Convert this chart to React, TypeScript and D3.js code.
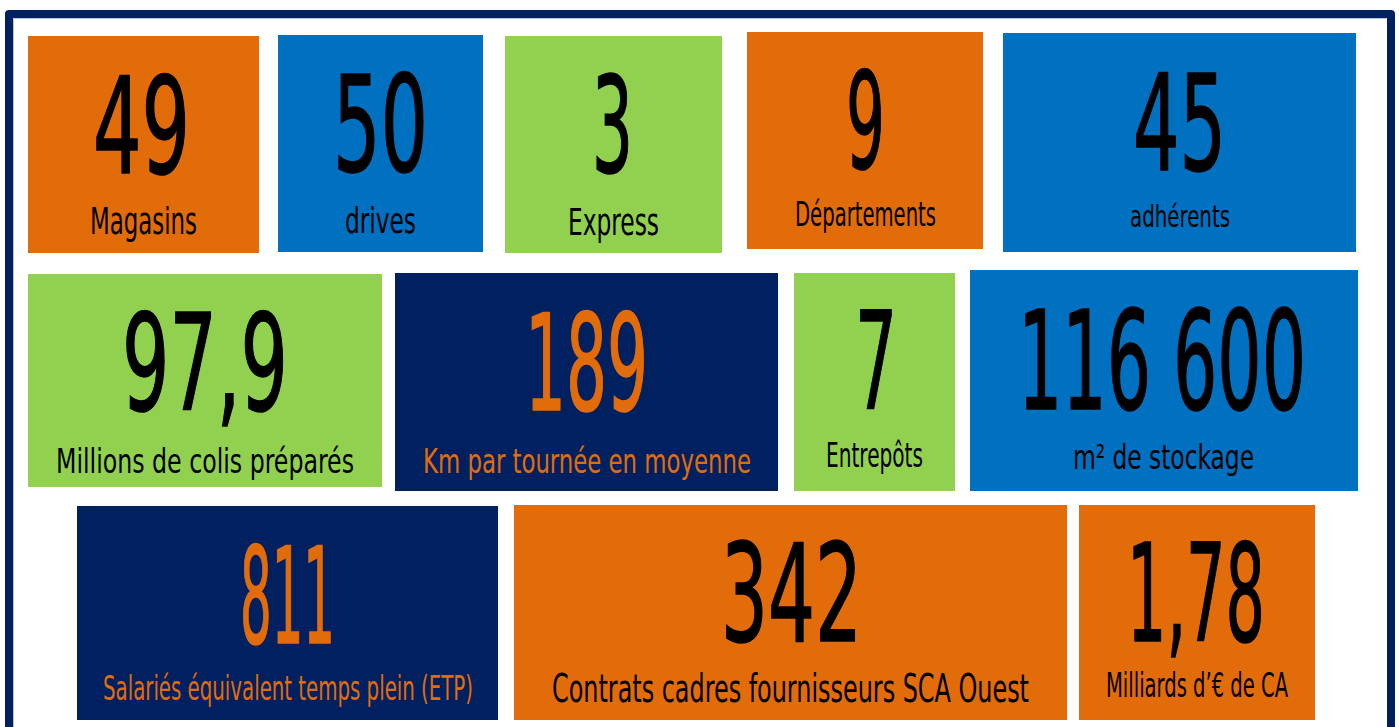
import React, { useEffect, useRef } from "react";
import * as d3 from "d3";

// ---- data ----
const values: string[] = ["49", "50", "3", "9", "45", "97,9", "189", "7", "116 600", "811", "342", "1,78"];
const labels: string[] = [
  "Magasins",
  "drives",
  "Express",
  "Départements",
  "adhérents",
  "Millions de colis préparés",
  "Km par tournée en moyenne",
  "Entrepôts",
  "m² de stockage",
  "Salariés équivalent temps plein (ETP)",
  "Contrats cadres fournisseurs SCA Ouest",
  "Milliards d’€ de CA",
];
const tileKinds: string[] = ["orange", "blue", "green", "orange", "blue", "green", "navy", "green", "blue", "navy", "orange", "orange"];

// ---- layout (pixel geometry of tiles and texts) ----
// tile: [x0, y0, x1, y1]
const tileBoxes: number[][] = [
  [28, 36, 259, 253], [278, 35, 483, 252], [505, 36, 722, 253], [747, 32, 983, 249], [1003, 33, 1356, 252],
  [28, 274, 382, 487], [395, 273, 778, 491], [794, 273, 955, 491], [970, 270, 1358, 491],
  [77, 506, 498, 720], [514, 505, 1067, 720], [1079, 505, 1315, 720],
];
// number: [x0, x1, capTop, baseline]
const numBoxes: number[][] = [
  [93, 190, 75, 173], [333, 428, 73, 171], [592, 633, 75, 172], [846, 885, 70, 168], [1133, 1226, 72, 170],
  [122, 288, 312, 410], [525, 648, 312, 410], [855, 897, 310, 409], [1018, 1306, 309, 409],
  [240, 335, 545, 643], [721, 862, 542, 641], [1127, 1265, 542, 641],
];
// label: [x0, x1, capTop, baseline]
const labelBoxes: number[][] = [
  [90, 197, 207, 234], [345, 416, 207, 233], [568, 659, 208, 235], [795, 936, 202, 226], [1130, 1230, 205, 227],
  [56, 354, 449, 473], [423, 751, 449, 473], [826, 923, 443, 467], [1073, 1254, 444, 469],
  [103, 473, 676, 700], [552, 1029, 674, 702], [1106, 1288, 673, 697],
];

const colors: Record<string, string> = {
  orange: "#E36C0A",
  blue: "#0070C0",
  green: "#92D050",
  navy: "#002060",
};
const textColors: Record<string, string> = {
  orange: "#000000",
  blue: "#000000",
  green: "#000000",
  navy: "#E36C0A",
};

const W = 1399;
const H = 727;
const FONT = "'DejaVu Sans Condensed', 'DejaVu Sans', sans-serif";
const CAP = 0.729; // cap-height ratio of DejaVu Sans

export default function App() {
  const ref = useRef<SVGSVGElement | null>(null);

  useEffect(() => {
    const svg = d3.select(ref.current);
    svg.selectAll("*").remove();

    svg.append("rect").attr("x", 0).attr("y", 0).attr("width", W).attr("height", H).attr("fill", "#ffffff");

    // frame
    svg.append("path")
      .attr("d", "M9,760 L9,14 L1391,14 L1391,760")
      .attr("fill", "none")
      .attr("stroke", "#002060")
      .attr("stroke-width", 8)
      .attr("stroke-linejoin", "round");
    svg.append("path")
      .attr("d", "M13.5,760 L13.5,18.5 L1386.5,18.5")
      .attr("fill", "none")
      .attr("stroke", "#B4C7E7")
      .attr("stroke-width", 1);

    const idx = d3.range(values.length);
    const fontSize = d3.scaleLinear().domain([0, CAP]).range([0, 1]);

    const g = svg.selectAll("g.tile").data(idx).enter().append("g").attr("class", "tile");

    g.append("rect")
      .attr("x", (i) => tileBoxes[i][0])
      .attr("y", (i) => tileBoxes[i][1])
      .attr("width", (i) => tileBoxes[i][2] - tileBoxes[i][0])
      .attr("height", (i) => tileBoxes[i][3] - tileBoxes[i][1])
      .attr("fill", (i) => colors[tileKinds[i]]);

    g.append("text")
      .attr("x", (i) => numBoxes[i][0])
      .attr("y", (i) => numBoxes[i][3])
      .attr("font-family", FONT)
      .attr("font-size", (i) => fontSize(numBoxes[i][3] - numBoxes[i][2]))
      .attr("textLength", (i) => numBoxes[i][1] - numBoxes[i][0])
      .attr("lengthAdjust", "spacingAndGlyphs")
      .attr("fill", (i) => textColors[tileKinds[i]])
      .attr("stroke", (i) => textColors[tileKinds[i]])
      .attr("stroke-width", 1.5)
      .text((i) => values[i]);

    g.append("text")
      .attr("x", (i) => labelBoxes[i][0])
      .attr("y", (i) => labelBoxes[i][3])
      .attr("font-family", FONT)
      .attr("font-size", (i) => fontSize(labelBoxes[i][3] - labelBoxes[i][2]))
      .attr("textLength", (i) => labelBoxes[i][1] - labelBoxes[i][0])
      .attr("lengthAdjust", "spacingAndGlyphs")
      .attr("fill", (i) => textColors[tileKinds[i]])
      .text((i) => labels[i]);
  }, []);

  return (
    <div style={{ position: "fixed", left: 0, top: 0, width: W, height: H, overflow: "hidden" }}>
      <svg ref={ref} width={W} height={H} style={{ display: "block" }} />
    </div>
  );
}
